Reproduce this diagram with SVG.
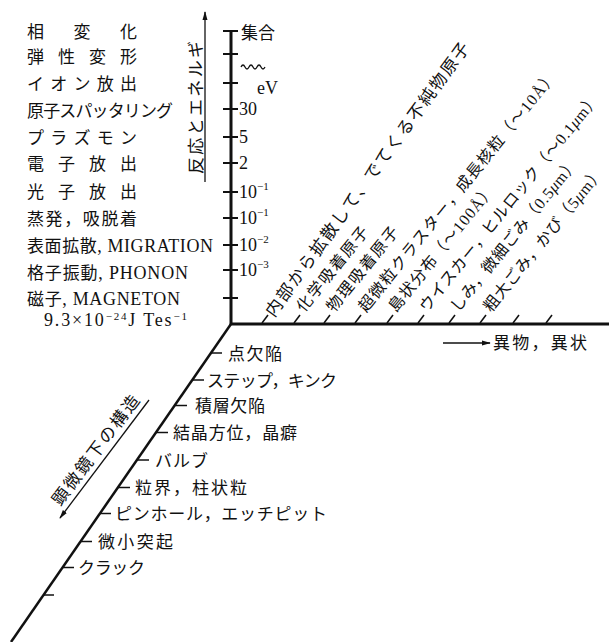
<svg xmlns="http://www.w3.org/2000/svg" width="609" height="642" viewBox="0 0 609 642">
<defs>
<style>
text { font-family: "Liberation Serif", "Noto Sans CJK JP", serif; font-size: 17px; fill: #111; }
.s16 { font-size: 16px; }
.lat { font-size: 18px; }
.num { font-size: 18px; }
.sup { font-size: 11px; }
.it { font-style: italic; }
.ax { stroke: #111; stroke-width: 3; fill: none; }
.dg { stroke: #111; stroke-width: 2.5; fill: none; }
.tk { stroke: #111; stroke-width: 2; fill: none; }
.tks { stroke: #111; stroke-width: 1.5; fill: none; }
.ln { stroke: #111; stroke-width: 1.3; fill: none; }
</style>
<marker id="ah" viewBox="0 0 10 10" refX="9" refY="5" markerWidth="9" markerHeight="9" orient="auto" markerUnits="userSpaceOnUse">
<path d="M0,2.2 L10,5 L0,7.8 Z" fill="#111"/>
</marker>
</defs>
<rect width="609" height="642" fill="#fff"/>

<g id="connectors">
  <line class="ax" x1="231" y1="30" x2="231" y2="325"/>
  <line class="ax" x1="230" y1="324" x2="609" y2="324"/>
  <line class="dg" x1="231" y1="324" x2="11" y2="642"/>
  <g class="tk">
    <line x1="223" y1="31" x2="238" y2="31"/>
    <line x1="223" y1="54" x2="238" y2="54"/>
    <line x1="223" y1="83" x2="238" y2="83"/>
    <line x1="223" y1="109" x2="238" y2="109"/>
    <line x1="223" y1="137" x2="238" y2="137"/>
    <line x1="223" y1="163" x2="238" y2="163"/>
    <line x1="223" y1="192" x2="238" y2="192"/>
    <line x1="223" y1="218" x2="238" y2="218"/>
    <line x1="223" y1="245" x2="238" y2="245"/>
    <line x1="223" y1="270" x2="238" y2="270"/>
    <line x1="223" y1="298" x2="238" y2="298"/>
  </g>
  <g class="tks">
    <line x1="262" y1="323" x2="268" y2="315"/>
    <line x1="294" y1="323" x2="300" y2="315"/>
    <line x1="324" y1="323" x2="330" y2="315"/>
    <line x1="355" y1="323" x2="361" y2="315"/>
    <line x1="387" y1="323" x2="393" y2="315"/>
    <line x1="418" y1="323" x2="424" y2="315"/>
    <line x1="449" y1="323" x2="455" y2="315"/>
    <line x1="480" y1="323" x2="486" y2="315"/>
    <line x1="513" y1="323" x2="519" y2="315"/>
    <line x1="546" y1="323" x2="552" y2="315"/>
  </g>
  <g class="tks">
    <line x1="211" y1="353" x2="222" y2="353"/>
    <line x1="192" y1="380" x2="204" y2="380"/>
    <line x1="175" y1="405.5" x2="187" y2="405.5"/>
    <line x1="156" y1="432.5" x2="168" y2="432.5"/>
    <line x1="137" y1="460" x2="149" y2="460"/>
    <line x1="118" y1="487.5" x2="130" y2="487.5"/>
    <line x1="100" y1="513.5" x2="111" y2="513.5"/>
    <line x1="80.5" y1="541.5" x2="92" y2="541.5"/>
    <line x1="62.5" y1="567.5" x2="74" y2="567.5"/>
    <line x1="43.5" y1="595" x2="54" y2="595"/>
  </g>
  <line class="ln" x1="205" y1="182" x2="205" y2="12" marker-end="url(#ah)"/>
  <line class="ln" x1="443" y1="343" x2="490" y2="343" marker-end="url(#ah)"/>
  <line class="ln" x1="149" y1="400" x2="60" y2="518" marker-end="url(#ah)"/>
  <path class="ln" d="M241,67 q2,-4 4,0 t4,0 t4,0 t4,0 t4,0 t4,0"/>
</g>

<g id="axis-titles">
  <g id="energy-title"><text transform="translate(201.5,174) rotate(-90)" textLength="133" lengthAdjust="spacing">反応とエネルギ</text></g>
  <g id="foreign-title"><text x="493" y="349" textLength="94" lengthAdjust="spacing">異物，異状</text></g>
  <g id="structure-title"><text transform="translate(60.5,506.8) rotate(-53)" textLength="133" lengthAdjust="spacing">顕微鏡下の構造</text></g>
</g>

<g id="energy-list">
  <g id="e1"><text x="27" y="38" textLength="110" lengthAdjust="spacing">相 変 化</text></g>
  <g id="e2"><text x="27" y="63" textLength="110" lengthAdjust="spacing">弾 性 変 形</text></g>
  <g id="e3"><text x="27" y="90" textLength="110" lengthAdjust="spacing">イ オ ン 放 出</text></g>
  <g id="e4"><text x="27" y="117" textLength="146" lengthAdjust="spacing">原子スパッタリング</text></g>
  <g id="e5"><text x="27" y="144" textLength="110" lengthAdjust="spacing">プ ラ ズ モ ン</text></g>
  <g id="e6"><text x="27" y="170" textLength="110" lengthAdjust="spacing">電 子 放 出</text></g>
  <g id="e7"><text x="27" y="198" textLength="110" lengthAdjust="spacing">光 子 放 出</text></g>
  <g id="e8"><text x="27" y="225" textLength="110" lengthAdjust="spacing">蒸発，吸脱着</text></g>
  <g id="e9"><text x="27" y="252" textLength="186" lengthAdjust="spacing">表面拡散<tspan class="lat">, MIGRATION</tspan></text></g>
  <g id="e10"><text x="27" y="279" textLength="161" lengthAdjust="spacing">格子振動<tspan class="lat">, PHONON</tspan></text></g>
  <g id="e11"><text x="27" y="305" textLength="153" lengthAdjust="spacing">磁子<tspan class="lat">, MAGNETON</tspan></text></g>
  <g id="e12"><text x="44" y="326" class="lat" textLength="143" lengthAdjust="spacing">9.3×10<tspan class="sup" dy="-6">−24</tspan><tspan dy="6">J Tes</tspan><tspan class="sup" dy="-6">−1</tspan></text></g>
</g>

<g id="energy-scale">
  <g id="v1"><text x="241" y="39">集合</text></g>
  <g id="v2"><text x="257" y="94" class="num">eV</text></g>
  <g id="v3"><text x="239" y="115" class="num">30</text></g>
  <g id="v4"><text x="239" y="143" class="num">5</text></g>
  <g id="v5"><text x="239" y="169" class="num">2</text></g>
  <g id="v6"><text x="239" y="198" class="num">10<tspan class="sup" dy="-8">−1</tspan></text></g>
  <g id="v7"><text x="239" y="224" class="num">10<tspan class="sup" dy="-8">−1</tspan></text></g>
  <g id="v8"><text x="239" y="251" class="num">10<tspan class="sup" dy="-8">−2</tspan></text></g>
  <g id="v9"><text x="239" y="276" class="num">10<tspan class="sup" dy="-8">−3</tspan></text></g>
</g>

<g id="foreign-labels">
  <g id="f1"><text transform="translate(274,318) rotate(-54)" textLength="334" lengthAdjust="spacing">内部から拡散して、でてくる不純物原子</text></g>
  <g id="f2"><text class="s16" transform="translate(304,313) rotate(-51)" textLength="104" lengthAdjust="spacing">化学吸着原子</text></g>
  <g id="f3"><text class="s16" transform="translate(334,313) rotate(-51)" textLength="104" lengthAdjust="spacing">物理吸着原子</text></g>
  <g id="f4"><text class="s16" transform="translate(366,313) rotate(-51)" textLength="304" lengthAdjust="spacing">超微粒クラスター，成長核粒（〜10Å）</text></g>
  <g id="f5"><text class="s16" transform="translate(396,313) rotate(-51)" textLength="158" lengthAdjust="spacing">島状分布（〜100Å）</text></g>
  <g id="f6"><text class="s16" transform="translate(427,313) rotate(-51)" textLength="275" lengthAdjust="spacing">ウイスカー，ヒルロック（〜0.1<tspan class="it">μ</tspan>m）</text></g>
  <g id="f7"><text class="s16" transform="translate(458,313) rotate(-51)" textLength="192" lengthAdjust="spacing">しみ，微細ごみ（0.5<tspan class="it">μ</tspan>m）</text></g>
  <g id="f8"><text class="s16" transform="translate(491,313) rotate(-51)" textLength="180" lengthAdjust="spacing">粗大ごみ，かび（5<tspan class="it">μ</tspan>m）</text></g>
</g>

<g id="structure-labels">
  <g id="s1"><text x="228" y="359.5" textLength="54" lengthAdjust="spacing">点欠陥</text></g>
  <g id="s2"><text x="207" y="386.5" textLength="130" lengthAdjust="spacing">ステップ，キンク</text></g>
  <g id="s3"><text x="195" y="412" textLength="70" lengthAdjust="spacing">積層欠陥</text></g>
  <g id="s4"><text x="173" y="439" textLength="124" lengthAdjust="spacing">結晶方位，晶癖</text></g>
  <g id="s5"><text x="155" y="466.5" textLength="53" lengthAdjust="spacing">バルブ</text></g>
  <g id="s6"><text x="135" y="494" textLength="112" lengthAdjust="spacing">粒界，柱状粒</text></g>
  <g id="s7"><text x="115" y="520" textLength="212" lengthAdjust="spacing">ピンホール，エッチピット</text></g>
  <g id="s8"><text x="98" y="548" textLength="75" lengthAdjust="spacing">微小突起</text></g>
  <g id="s9"><text x="78" y="574" textLength="67" lengthAdjust="spacing">クラック</text></g>
</g>
</svg>
